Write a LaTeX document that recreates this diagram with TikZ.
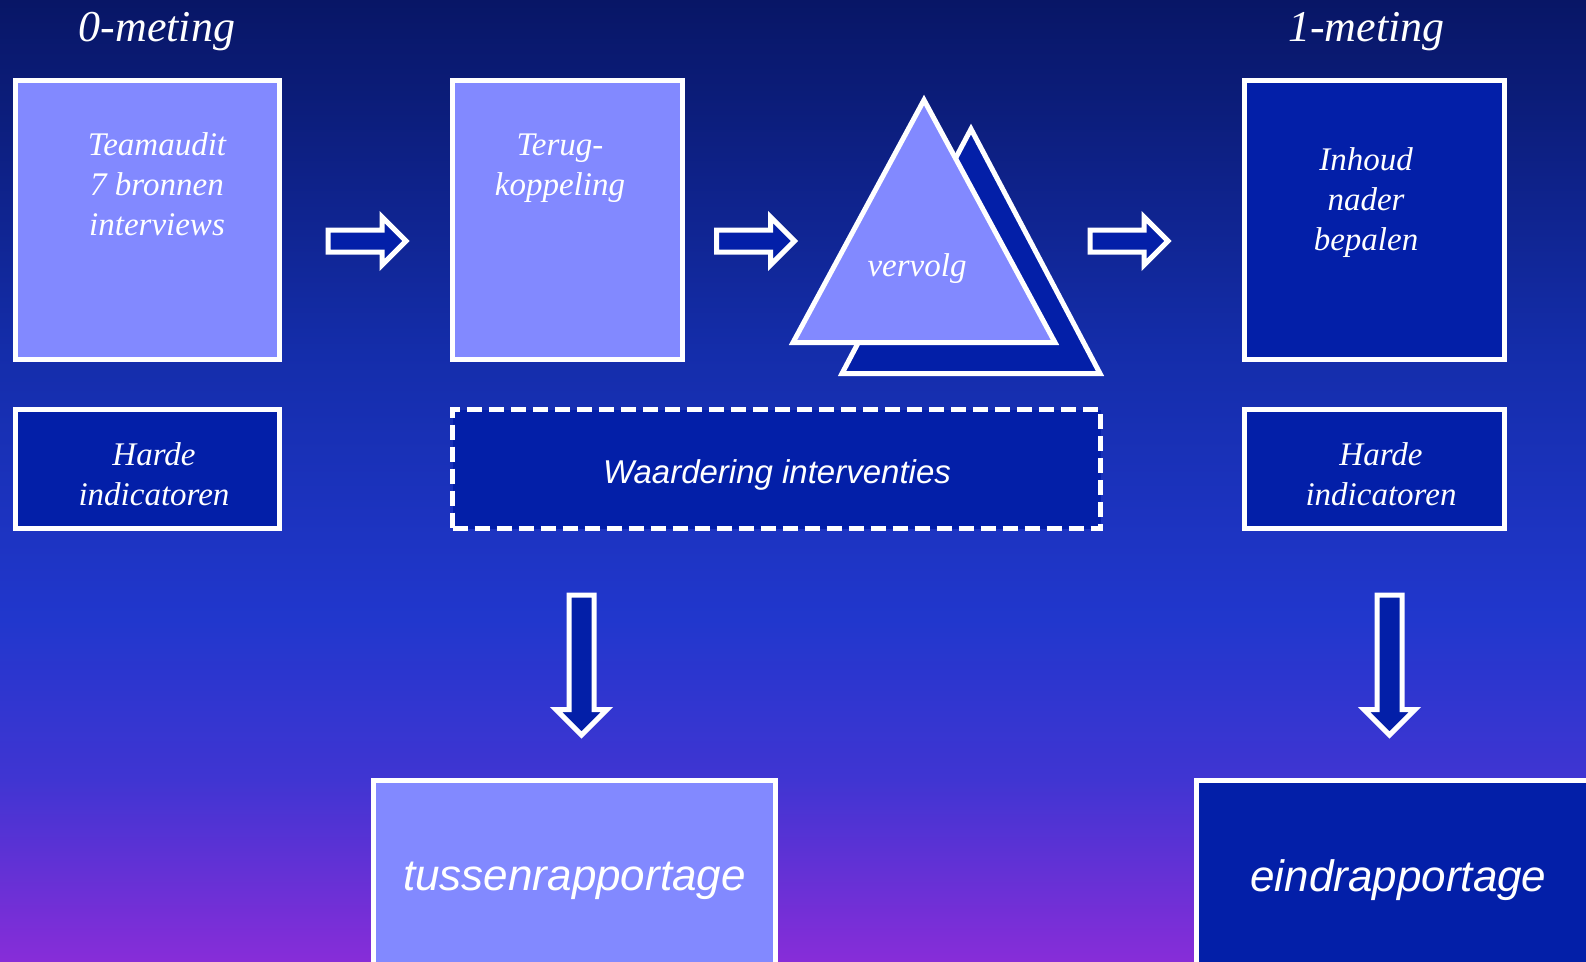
\documentclass[tikz,border=0pt]{standalone}
\usepackage{fontspec}
\setmainfont{Liberation Serif}
\newfontfamily\arialfont{Liberation Sans}
\usetikzlibrary{shapes.arrows,positioning}

\definecolor{boxlight}{RGB}{130,137,255}
\definecolor{boxdark}{RGB}{3,31,168}
\definecolor{bgA}{RGB}{8,22,102}
\definecolor{bgB}{RGB}{20,45,170}
\definecolor{bgC}{RGB}{33,55,205}
\definecolor{bgD}{RGB}{64,53,210}
\definecolor{bgE}{RGB}{135,45,216}

\begin{document}
\begin{tikzpicture}[
    x=1pt, y=-1pt,
    box/.style={rectangle, draw=white, line width=5pt, inner sep=0pt},
    lightbox/.style={box, fill=boxlight},
    darkbox/.style={box, fill=boxdark},
    dashbox/.style={darkbox, dash pattern=on 15pt off 7pt},
    boxtext/.style={text=white, align=center, inner sep=0pt,
      font=\fontsize{33}{40}\selectfont\itshape},
    headtext/.style={text=white, inner sep=0pt,
      font=\fontsize{44}{48}\selectfont\itshape},
    sanstext/.style={text=white, font=\arialfont\fontsize{33}{40}\selectfont\itshape},
    bigtext/.style={text=white, font=\arialfont\fontsize{44}{50}\selectfont\itshape},
    blockarrow/.style={single arrow, draw=white, line width=5pt, fill=boxdark,
      inner sep=0pt, single arrow head extend=13pt, anchor=tail},
    tri/.style={draw=white, line width=5pt},
  ]

  \clip (0,0) rectangle (1586,961);

  %% ── Background ───────────────────────────────────────────
  \shade[top color=bgA, bottom color=bgB] (0,0)   rectangle (1586,351);
  \shade[top color=bgB, bottom color=bgC] (0,350) rectangle (1586,621);
  \shade[top color=bgC, bottom color=bgD] (0,620) rectangle (1586,781);
  \shade[top color=bgD, bottom color=bgE] (0,780) rectangle (1586,961);

  %% ── 0-meting ─────────────────────────────────────────────
  \node[headtext] (null) at (157,32) {0-meting};
  \node[lightbox, minimum width=264pt, minimum height=279pt] (audit) at (147.5,220) {};
  \node[boxtext] (audittxt) at (157,184) {Teamaudit\\7 bronnen\\interviews};
  \node[darkbox, minimum width=264pt, minimum height=119pt] (harde0) at (147.5,469) {};
  \node[boxtext] (harde0txt) at (154,474) {Harde\\indicatoren};

  %% ── Terugkoppeling, vervolg, waardering ──────────────────
  \node[lightbox, minimum width=230pt, minimum height=279pt] (terug) at (567.5,220) {};
  \node[boxtext] (terugtxt) at (560,168) {Terug-\\koppeling};

  \draw[tri, fill=boxdark]  (842,373.5) -- (971,129) -- (1100,373.5) -- cycle;
  \draw[tri, fill=boxlight] (793,342.5) -- (924,100) -- (1055,342.5) -- cycle;
  \node[boxtext] (vervolg) at (917,269) {vervolg};

  \node[dashbox, minimum width=648pt, minimum height=119pt] (waard) at (776.5,469) {};
  \node[sanstext] (waardtxt) at (777,474.5) {Waardering interventies};

  %% ── 1-meting ─────────────────────────────────────────────
  \node[headtext] (een) at (1366.5,32) {1-meting};
  \node[darkbox, minimum width=260pt, minimum height=279pt] (inhoud) at (1374.5,220) {};
  \node[boxtext] (inhoudtxt) at (1366,203) {Inhoud\\nader\\bepalen};
  \node[darkbox, minimum width=260pt, minimum height=119pt] (harde1) at (1374.5,469) {};
  \node[boxtext] (harde1txt) at (1381,474) {Harde\\indicatoren};

  %% ── Rapportages ──────────────────────────────────────────
  \node[lightbox, bigtext, minimum width=402pt, minimum height=200pt] (tussen)
    at (574.5,880.5) {tussenrapportage};
  \node[darkbox, bigtext, minimum width=404pt, minimum height=200pt] (eind)
    at (1398.5,880.5) {eindrapportage};

  %% ── Block arrows ─────────────────────────────────────────
  \node[blockarrow, minimum height=78pt] (arrA) at (325.5,241) {\rule{0pt}{17pt}};
  \node[blockarrow, minimum height=78pt] (arrB) at (714,241)   {\rule{0pt}{17pt}};
  \node[blockarrow, minimum height=78pt] (arrC) at (1087.5,241) {\rule{0pt}{17pt}};
  \node[blockarrow, minimum height=140pt, rotate=-90]
    (arrD) at (581.5,592.5) {\rule{0pt}{20pt}};
  \node[blockarrow, minimum height=140pt, rotate=-90]
    (arrE) at (1389.5,592.5) {\rule{0pt}{20pt}};

\end{tikzpicture}
\end{document}
